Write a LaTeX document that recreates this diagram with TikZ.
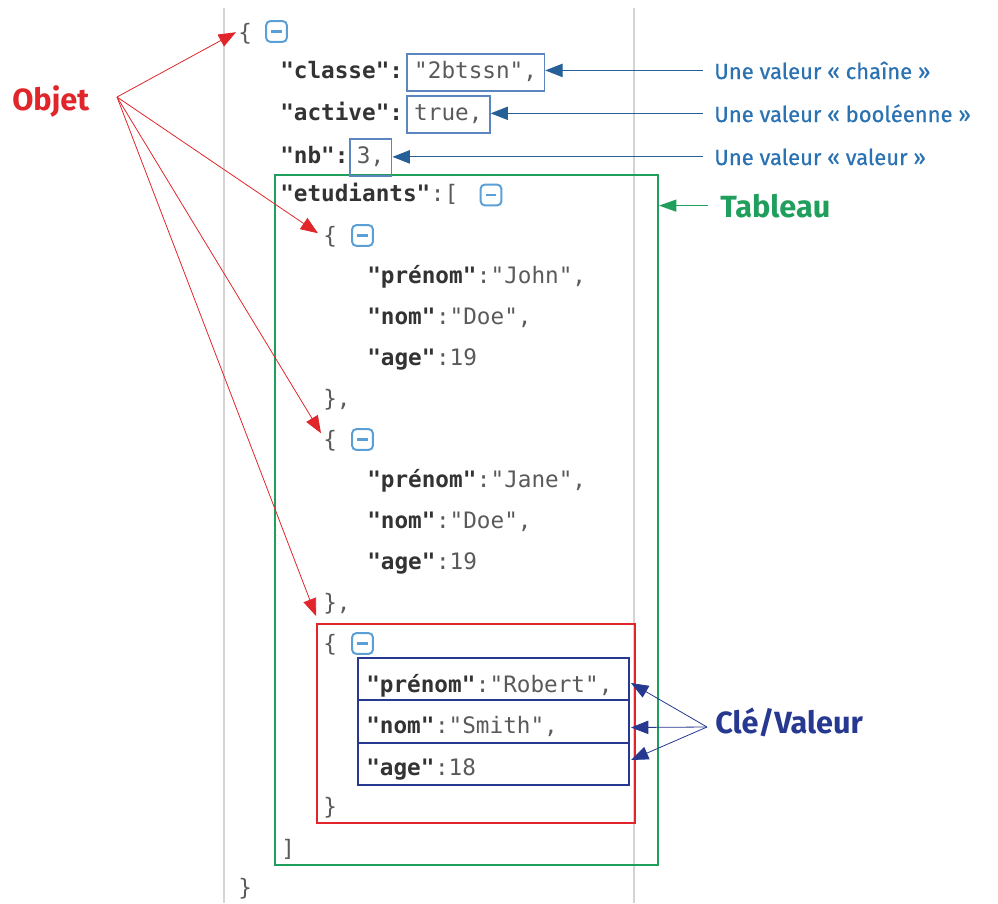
\documentclass[tikz,border=0pt]{standalone}
\usepackage{fontspec}
\setmainfont{Fira Sans}
\setmonofont{DejaVu Sans Mono}
\newfontfamily\lblfont[FakeBold=0.6]{Fira Sans}
\usetikzlibrary{arrows.meta,positioning}
\definecolor{objred}{HTML}{E0262B}
\definecolor{tabgreen}{HTML}{1F9E5C}
\definecolor{valblue}{HTML}{2B72B3}
\definecolor{valbox}{HTML}{5B86C0}
\definecolor{kvblue}{HTML}{26388F}
\definecolor{keygray}{HTML}{333333}
\definecolor{codegray}{HTML}{5A5A5A}
\definecolor{rulegray}{HTML}{D4D4D4}
\definecolor{iconblue}{HTML}{5AA0D6}
\tikzset{
  code/.style={anchor=base west,inner sep=0pt,font=\ttfamily\fontsize{17pt}{19pt}\selectfont,text=codegray},
  key/.style={code,text=keygray,font=\ttfamily\bfseries\fontsize{17pt}{19pt}\selectfont},
  valuebox/.style={draw=valbox,line width=1.3pt,anchor=base west,inner xsep=5.5pt,inner ysep=6pt,
     text height=12pt,text depth=4pt,font=\ttfamily\fontsize{17pt}{19pt}\selectfont,text=codegray},
  minusicon/.style={draw=iconblue,line width=1.5pt,rounded corners=3pt,minimum size=15.5pt,inner sep=0pt,
     path picture={\draw[iconblue,line width=1.6pt] ([xshift=3.8pt]path picture bounding box.west) -- ([xshift=-3.8pt]path picture bounding box.east);}},
  biglabel/.style={anchor=base west,inner sep=0pt,font=\bfseries\fontsize{23pt}{26pt}\selectfont},
  vallabel/.style={anchor=base west,inner sep=0pt,text=valblue,font=\lblfont\fontsize{16.5pt}{19pt}\selectfont},
  valarrow/.style={draw=valblue!85!black,line width=0.8pt,-{Triangle[length=13pt,width=10pt]}},
  objarrow/.style={draw=objred,line width=0.6pt,-{Triangle[length=13pt,width=10pt]}},
  kvarrow/.style={draw=kvblue,line width=0.6pt,-{Triangle[length=13pt,width=10pt]}},
  tabarrow/.style={draw=tabgreen,line width=0.8pt,-{Triangle[length=13pt,width=9pt]}},
  framebox/.style={draw,line width=1.5pt,inner sep=0pt},
}
\begin{document}
\begin{tikzpicture}[x=0.75pt,y=-0.75pt]
\useasboundingbox (0,0) rectangle (998,903);
% gray rulers
\coordinate (g1t) at (224,8); \coordinate (g1b) at (224,903);
\coordinate (g2t) at (634,8); \coordinate (g2b) at (634,903);
\draw[rulegray,line width=0.8pt] (g1t) -- (g1b);
\draw[rulegray,line width=0.8pt] (g2t) -- (g2b);

% frames
\node[framebox,draw=tabgreen,minimum width=287.25pt,minimum height=517.5pt] (tab) at (466.5,520) {};
\node[framebox,draw=objred,minimum width=238.5pt,minimum height=149.25pt] (robj) at (476,723.5) {};
\node[framebox,draw=kvblue,minimum width=203.25pt,minimum height=31.5pt] (kv1) at (493.5,679) {};
\node[framebox,draw=kvblue,minimum width=203.25pt,minimum height=32.25pt] (kv2) at (493.5,721.5) {};
\node[framebox,draw=kvblue,minimum width=203.25pt,minimum height=31.5pt] (kv3) at (493.5,764) {};

% top level
\node[code] (b0) at (238,40) {\{};
\node[minusicon] (i0) at (276.5,31.5) {};
\node[key] (kclasse) at (280,78) {"classe":};
\node[valuebox] (vclasse) at ([xshift=2pt]kclasse.base east) {"2btssn",};
\node[key] (kactive) at (280,120) {"active":};
\node[valuebox] (vactive) at ([xshift=2pt]kactive.base east) {true,};
\node[key] (knb) at (280,163) {"nb":};
\node[valuebox] (vnb) at ([xshift=0pt]knb.base east) {3,};
\node[key] (ketud) at (280,201) {"etudiants"};
\node[code] (oetud) at (ketud.base east) {:[};
\node[minusicon] (i1) at (491,195) {};

% student 1
\node[code] (b1) at (323,243) {\{};
\node[minusicon] (i2) at (362.5,235.5) {};
\node[key] (k11) at (367,283) {"prénom"};
\node[code] (v11) at (k11.base east) {:"John",};
\node[key] (k12) at (367,324) {"nom"};
\node[code] (v12) at (k12.base east) {:"Doe",};
\node[key] (k13) at (367,365) {"age"};
\node[code] (v13) at (k13.base east) {:19};
\node[code] (e1) at (323,406) {\},};

% student 2
\node[code] (b2) at (323,447) {\{};
\node[minusicon] (i3) at (362.5,439.5) {};
\node[key] (k21) at (367,487) {"prénom"};
\node[code] (v21) at (k21.base east) {:"Jane",};
\node[key] (k22) at (367,528) {"nom"};
\node[code] (v22) at (k22.base east) {:"Doe",};
\node[key] (k23) at (367,569) {"age"};
\node[code] (v23) at (k23.base east) {:19};
\node[code] (e2) at (323,610) {\},};

% student 3
\node[code] (b3) at (323,651) {\{};
\node[minusicon] (i4) at (362.5,643.5) {};
\node[key] (k31) at (366,692) {"prénom"};
\node[code] (v31) at (k31.base east) {:"Robert",};
\node[key] (k32) at (366,733) {"nom"};
\node[code] (v32) at (k32.base east) {:"Smith",};
\node[key] (k33) at (366,775) {"age"};
\node[code] (v33) at (k33.base east) {:18};
\node[code] (e3) at (323,814) {\}};

\node[code] (eb) at (281,856) {]};
\node[code] (e0) at (238,895) {\}};

% labels
\node[biglabel,text=objred] (lobj) at (12,110) {Objet};
\node[biglabel,text=tabgreen] (ltab) at (720,217) {Tableau};
\node[biglabel,text=kvblue] (lkv) at (715,733) {Clé/Valeur};
\node[vallabel] (lch) at (714,79) {Une valeur « chaîne »};
\node[vallabel] (lbo) at (714,122) {Une valeur « booléenne »};
\node[vallabel] (lva) at (714,165) {Une valeur « valeur »};

% value arrows
\draw[valarrow,shorten <=8pt] (lch.west) -- (lch.west -| vclasse.east);
\draw[valarrow,shorten <=8pt] (lbo.west) -- (lbo.west -| vactive.east);
\draw[valarrow,shorten <=8pt] (lva.west) -- (lva.west -| vnb.east);
\draw[tabarrow,shorten <=9pt] (ltab.west) -- (ltab.west -| tab.east);

% objet arrows
\coordinate (oo) at (117,97);
\draw[objarrow] (oo) -- ([shift={(-2,-1)}]b0.west);
\draw[objarrow] (oo) -- ([shift={(-5,-3)}]b1.west);
\draw[objarrow] (oo) -- ([shift={(-2,-7)}]b2.west);
\draw[objarrow] (oo) -- ([shift={(0,-7)}]robj.north west);

% cle/valeur arrows
\coordinate (kvo) at (707,727);
\draw[kvarrow] (kvo) -- ([shift={(1,4)}]kv1.east);
\draw[kvarrow] (kvo) -- ([shift={(1,6)}]kv2.east);
\draw[kvarrow] (kvo) -- ([shift={(1,-4)}]kv3.east);
\end{tikzpicture}
\end{document}
